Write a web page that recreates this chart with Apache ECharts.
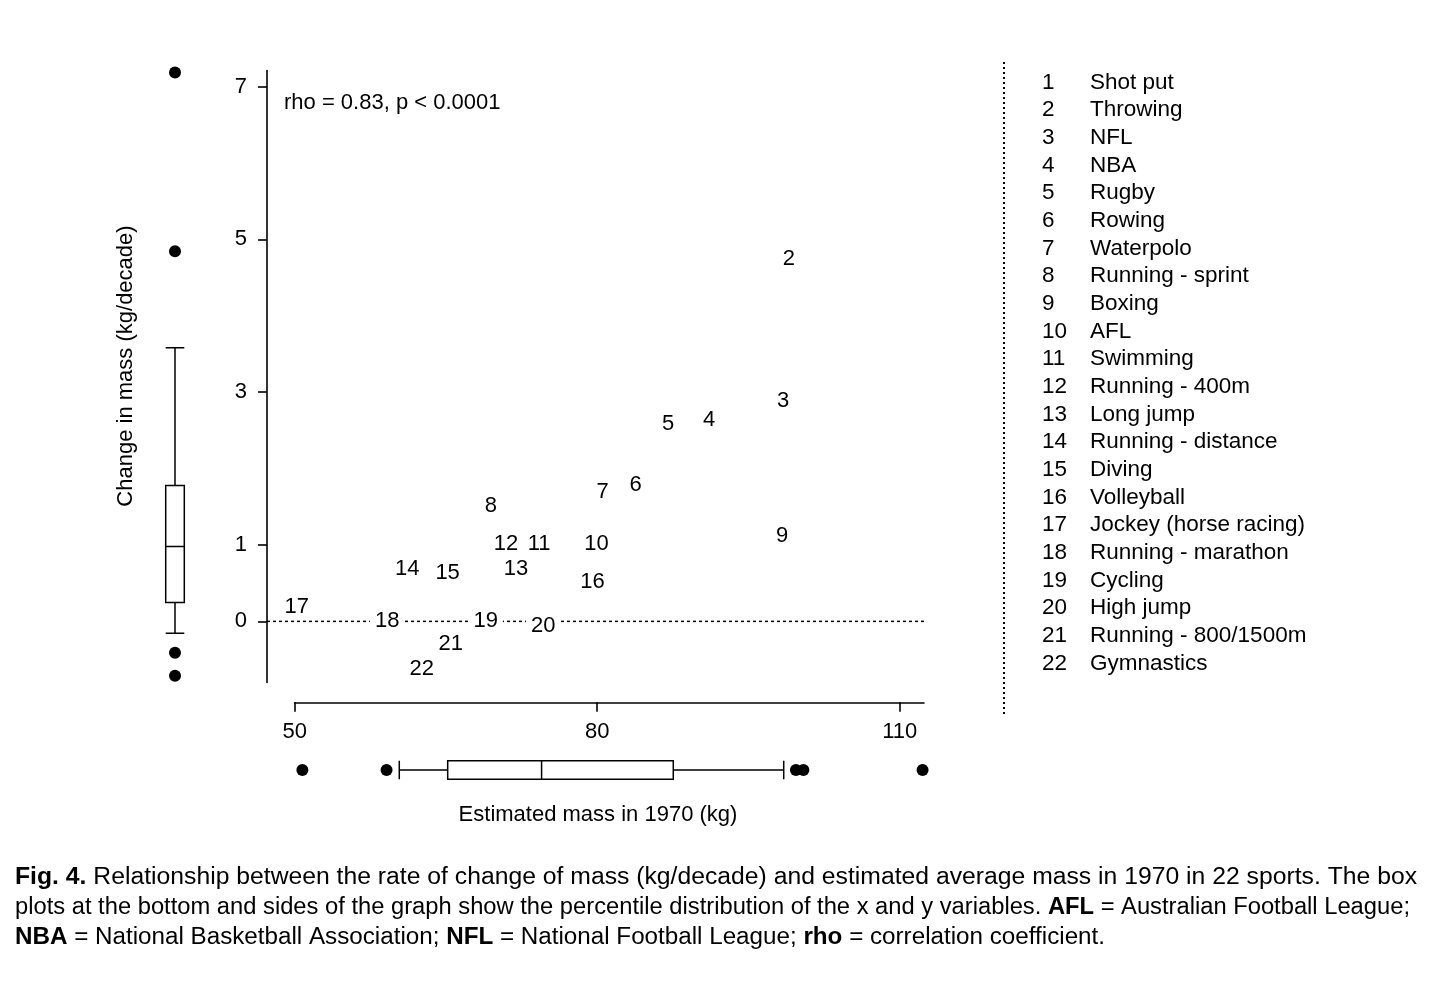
<!DOCTYPE html>
<html>
<head>
<meta charset="utf-8">
<script src="https://cdn.jsdelivr.net/npm/echarts@6/dist/echarts.min.js"></script>
<style>
html,body{margin:0;padding:0;background:#fff;}
#chart{width:1456px;height:1000px;}
</style>
</head>
<body>
<div id="chart"></div>
<script>
// ---- data ----
const ids = [1,2,3,4,5,6,7,8,9,10,11,12,13,14,15,16,17,18,19,20,21,22];
const sports = ["Shot put","Throwing","NFL","NBA","Rugby","Rowing","Waterpolo","Running - sprint","Boxing","AFL","Swimming","Running - 400m","Long jump","Running - distance","Diving","Volleyball","Jockey (horse racing)","Running - marathon","Cycling","High jump","Running - 800/1500m","Gymnastics"];
const mass1970 = [111.48,99.0,98.43,91.09,87.03,83.8,80.52,69.46,98.33,79.93,74.24,70.94,71.93,61.16,65.16,79.53,50.2,59.18,68.93,74.64,65.46,62.59];
const changeRate = [7.22,4.75,2.89,2.64,2.58,1.79,1.70,1.51,1.12,1.01,1.01,1.01,0.69,0.68,0.63,0.51,0.19,0.01,0.0,-0.06,-0.30,-0.62];
// box plot summaries as drawn: [min, Q1, median, Q3, max]
const massBox = [60.37,65.17,74.48,87.54,98.49];
const massOutliers = [50.76,59.11,99.70,100.44,112.26];
const changeBox = [-0.157,0.248,0.981,1.778,3.582];
const changeOutliers = [7.185,4.845,-0.41,-0.711];
const xTicks = [50,80,110];
const yTicks = [0,1,3,5,7];
const rhoText = "rho = 0.83, p < 0.0001";
const xTitle = "Estimated mass in 1970 (kg)";
const yTitle = "Change in mass (kg/decade)";
const captionLines = [
  [["Fig. 4.",1],[" Relationship between the rate of change of mass (kg/decade) and estimated average mass in 1970 in 22 sports. The box",0]],
  [["plots at the bottom and sides of the graph show the percentile distribution of the x and y variables. ",0],["AFL",1],[" = Australian Football League;",0]],
  [["NBA",1],[" = National Basketball Association; ",0],["NFL",1],[" = National Football League; ",0],["rho",1],[" = correlation coefficient.",0]]
];

// ---- layout ----
const FONT = '"Liberation Sans", Arial, Helvetica, sans-serif';
const XMIN0 = 47.25, XMAX = 112.4, YMIN = -0.8, YMAX = 7.21;
const G0 = {left:267, top:70.5, width:657, height:612};

const chart = echarts.init(document.getElementById('chart'), null, {renderer:'canvas'});

const cv = document.createElement('canvas').getContext('2d');
function measure(segs, size){
  let w = 0;
  segs.forEach(s => { cv.font = (s[1] ? 'bold ' : '') + size + 'px ' + FONT; w += cv.measureText(s[0]).width; });
  return w;
}
const capSize = 23.5;
const capTargets = [1402, 1395, 1090];
const capY = [878, 908, 938];
const graphics = [];
captionLines.forEach((segs, i) => {
  const txt = segs.map(s => '{' + (s[1] ? 'b' : 'n') + '|' + s[0] + '}').join('');
  const w = measure(segs, capSize);
  graphics.push({
    type:'text', x:15, y:capY[i], scaleX: capTargets[i] / w,
    style:{text:txt, fill:'#000', font: capSize + 'px ' + FONT, textVerticalAlign:'middle', verticalAlign:'middle',
      rich:{ b:{fontWeight:'bold', fontSize:capSize, fontFamily:FONT, fill:'#000'}, n:{fontSize:capSize, fontFamily:FONT, fill:'#000'} }}
  });
});
// legend list
ids.forEach((id, i) => {
  const y = 82.5 + i * 27.67;
  graphics.push({type:'text', x:1042, y:y, style:{text:String(id), fill:'#000', font:'22.5px ' + FONT, textVerticalAlign:'middle', verticalAlign:'middle'}});
  graphics.push({type:'text', x:1090, y:y, style:{text:sports[i], fill:'#000', font:'22.5px ' + FONT, textVerticalAlign:'middle', verticalAlign:'middle'}});
});
graphics.push({type:'line', shape:{x1:1004, y1:62, x2:1004, y2:715}, style:{stroke:'#000', lineWidth:2, lineDash:[2,3]}});
graphics.push({type:'text', x:284, y:103, style:{text:rhoText, fill:'#000', font:'22px ' + FONT, textVerticalAlign:'middle', verticalAlign:'middle'}});
graphics.push({type:'text', x:598, y:815, style:{text:xTitle, fill:'#000', font:'22px ' + FONT, textAlign:'center', align:'center', textVerticalAlign:'middle', verticalAlign:'middle'}});
graphics.push({type:'text', x:126, y:366, rotation:Math.PI/2, style:{text:yTitle, fill:'#000', font:'22px ' + FONT, textAlign:'center', align:'center', textVerticalAlign:'middle', verticalAlign:'middle'}});

const axisLineStyle = {color:'#000', width:1.6};

const option = {
  animation:false,
  backgroundColor:'#fff',
  textStyle:{fontFamily:FONT, color:'#000'},
  grid:[
    {left:G0.left, top:G0.top, width:G0.width, height:G0.height},
    {left:294.7, top:692.3, width:629.3, height:10},
    {left:294.7, top:755, width:629.3, height:30},
    {left:160, top:G0.top, width:30, height:G0.height}
  ],
  xAxis:[
    {gridIndex:0, type:'value', min:XMIN0, max:XMAX, show:false},
    {gridIndex:1, type:'value', min:50, max:XMAX, position:'bottom',
      axisLine:{show:true, onZero:false, lineStyle:axisLineStyle},
      axisTick:{show:true, length:9.5, customValues:xTicks, lineStyle:axisLineStyle},
      axisLabel:{show:true, customValues:xTicks, fontSize:22, color:'#000', margin:19, fontFamily:FONT},
      splitLine:{show:false}},
    {gridIndex:2, type:'value', min:50, max:XMAX, show:false},
    {gridIndex:3, type:'category', data:['y'], show:false}
  ],
  yAxis:[
    {gridIndex:0, type:'value', min:YMIN, max:YMAX,
      axisLine:{show:true, onZero:false, lineStyle:axisLineStyle},
      axisTick:{show:true, length:9, customValues:yTicks, lineStyle:axisLineStyle},
      axisLabel:{show:true, customValues:yTicks, fontSize:22, color:'#000', margin:20, fontFamily:FONT},
      splitLine:{show:false}},
    {gridIndex:1, type:'value', show:false},
    {gridIndex:2, type:'category', data:['x'], show:false},
    {gridIndex:3, type:'value', min:YMIN, max:YMAX, show:false}
  ],
  graphic:graphics,
  series:[
    {type:'line', xAxisIndex:0, yAxisIndex:0, data:[[XMIN0,0],[XMAX,0]], symbol:'none', silent:true, z:1,
      lineStyle:{color:'#000', width:1.5, type:[3,3]}},
    {type:'scatter', xAxisIndex:0, yAxisIndex:0, z:5, symbolSize:1, itemStyle:{color:'rgba(0,0,0,0)', opacity:1},
      data: ids.map((id,i) => [mass1970[i], changeRate[i], id]),
      label:{show:true, position:'inside', formatter:p => String(p.data[2]), fontSize:22, color:'#000', fontFamily:FONT,
        textBorderWidth:0, textBorderColor:'transparent', opacity:1,
        backgroundColor:'#fff', padding:[0,5]}},
    {type:'boxplot', xAxisIndex:2, yAxisIndex:2, data:[massBox], boxWidth:[18.6,18.6],
      itemStyle:{color:'#fff', borderColor:'#000', borderWidth:1.5}},
    {type:'scatter', xAxisIndex:2, yAxisIndex:2, data:massOutliers.map(v => [v,0]), symbolSize:12, itemStyle:{color:'#000', opacity:1}},
    {type:'boxplot', xAxisIndex:3, yAxisIndex:3, data:[changeBox], boxWidth:[18.6,18.6],
      itemStyle:{color:'#fff', borderColor:'#000', borderWidth:1.5}},
    {type:'scatter', xAxisIndex:3, yAxisIndex:3, data:changeOutliers.map(v => [0,v]), symbolSize:12, itemStyle:{color:'#000', opacity:1}}
  ]
};
chart.setOption(option);
</script>
</body>
</html>
